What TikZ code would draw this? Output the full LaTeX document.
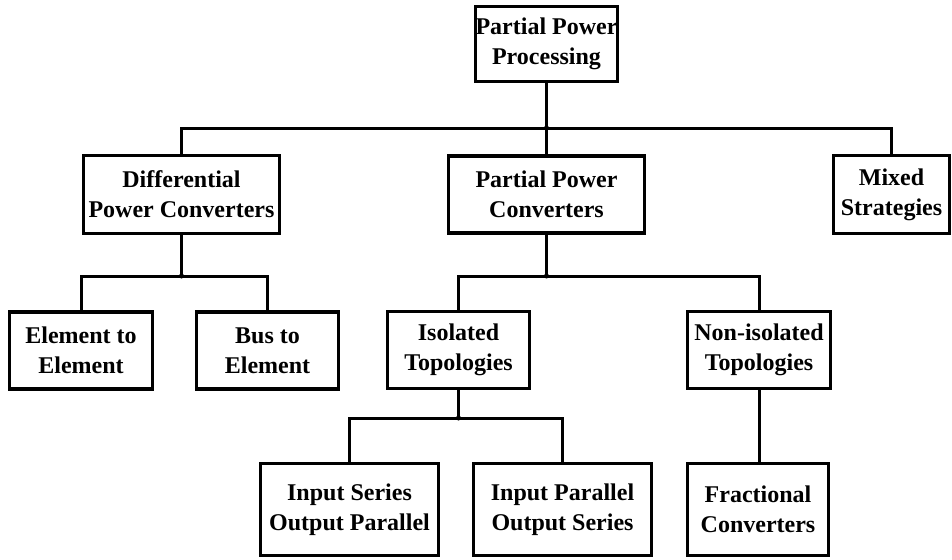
\documentclass[tikz,border=0pt]{standalone}
\usepackage{fontspec}
\setmainfont{Liberation Serif}
\usetikzlibrary{positioning,calc}

\tikzset{
  blk/.style={draw,line width=3.5pt,align=center,inner sep=0pt,
    font=\fontsize{24}{30}\selectfont\bfseries},
  wire/.style={line width=3pt},
  jdot/.style={fill,circle,inner sep=0pt,minimum size=5pt}
}

\begin{document}
\begin{tikzpicture}[x=1pt,y=-1pt]
  \useasboundingbox (0,0) rectangle (952,559);
  % top level
  \node[blk,minimum width=134,minimum height=75] (ppp) at (546.5,44) {Partial Power\\Processing};
  % second level
  \node[blk,minimum width=196,minimum height=78] (dpc) at (181.5,194.5) {Differential\\Power Converters};
  \node[blk,minimum width=196,minimum height=77] (ppc) at (546.5,194.5) {Partial Power\\Converters};
  \node[blk,minimum width=116,minimum height=78] (mix) at (891.5,194.5) {Mixed\\Strategies};
  % third level
  \node[blk,minimum width=143,minimum height=77] (e2e) at (81,350.5) {Element to\\Element};
  \node[blk,minimum width=142,minimum height=77] (b2e) at (267.5,350.5) {Bus to\\Element};
  \node[blk,minimum width=142,minimum height=77] (iso) at (458.5,350) {Isolated\\Topologies};
  \node[blk,minimum width=143,minimum height=77] (niso) at (759,350) {Non-isolated\\Topologies};
  % fourth level
  \node[blk,minimum width=178,minimum height=92] (ispo) at (349.5,509.5) {Input Series\\Output Parallel};
  \node[blk,minimum width=178,minimum height=92] (ipos) at (562.5,509.5) {Input Parallel\\Output Series};
  \node[blk,minimum width=141,minimum height=92] (frac) at (758,509.5) {Fractional\\Converters};

  % junctions
  \coordinate (j1) at (546.5,128);
  \coordinate (j2) at (181.5,276);
  \coordinate (j3) at (546.5,276);
  \coordinate (j4) at (458.5,418);

  \draw[wire] (ppp) -- (j1);
  \draw[wire] (dpc.north) |- (j1) -| (mix.north);
  \draw[wire] (j1) -- (ppc);
  \draw[wire] (dpc) -- (j2);
  \draw[wire] (e2e.north) |- (j2) -| (b2e.north);
  \draw[wire] (ppc) -- (j3);
  \draw[wire] (iso.north) |- (j3) -| (niso.north);
  \draw[wire] (iso) -- (j4);
  \draw[wire] (ispo.north) |- (j4) -| (ipos.north);
  \draw[wire] (niso.south) -- (niso.south |- frac.north);

  \foreach \j in {j1,j2,j3,j4}
    \node[jdot] at (\j) {};
\end{tikzpicture}
\end{document}
